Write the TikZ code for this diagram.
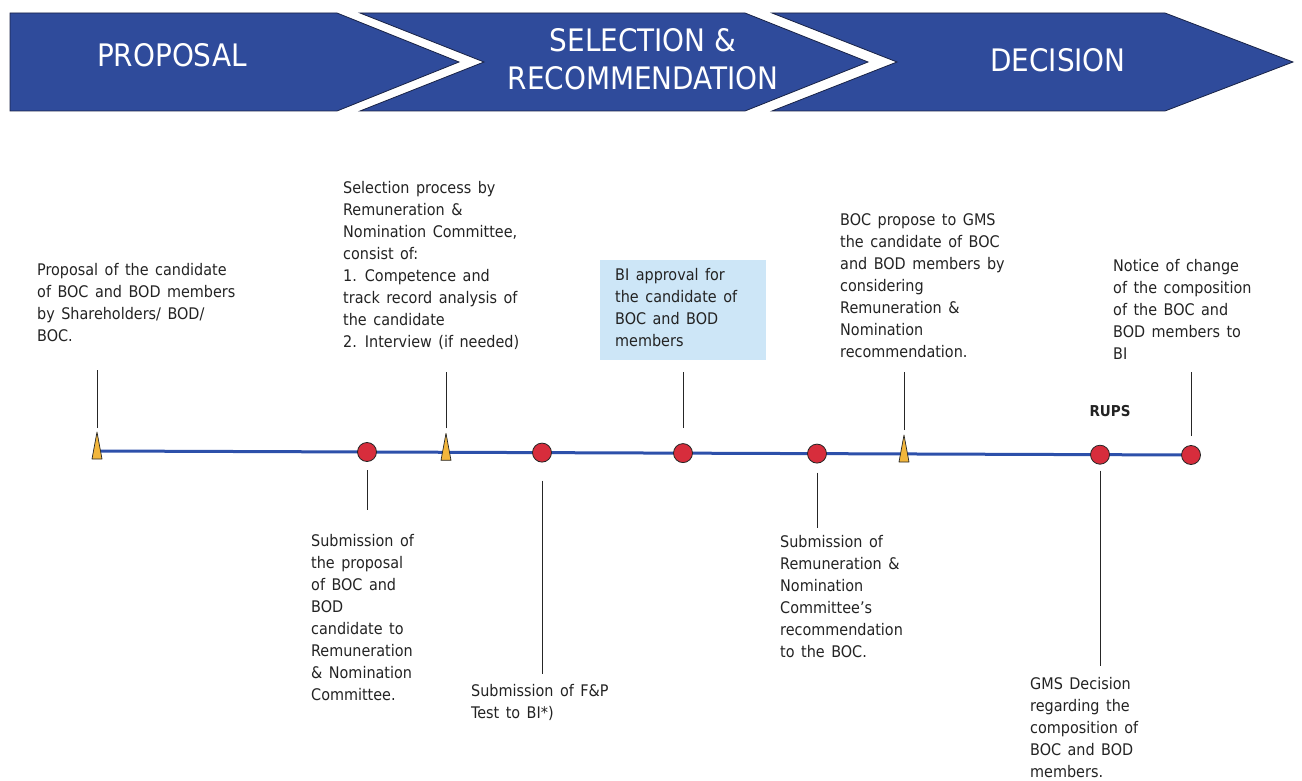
\documentclass[tikz,border=0pt]{standalone}
\usepackage{fontspec}
\setmainfont{DejaVu Sans Condensed}
\definecolor{hdrblue}{RGB}{47,75,155}
\definecolor{hdredge}{RGB}{25,35,70}
\definecolor{tlblue}{RGB}{45,80,170}
\definecolor{dotred}{RGB}{215,45,60}
\definecolor{triyel}{RGB}{242,182,60}
\definecolor{boxblue}{RGB}{205,230,247}
\definecolor{txt}{RGB}{35,35,35}
\newcommand{\descfont}{\fontsize{16}{22}\selectfont\spaceskip=6.5pt\relax}
\begin{document}
\begin{tikzpicture}[x=1pt,y=-1pt,
  chev/.style={fill=hdrblue,draw=hdredge,line width=0.8pt},
  hdr/.style={text=white,font=\fontsize{31}{38}\selectfont,align=center,inner sep=0pt},
  dot/.style={circle,draw=black!85,fill=dotred,line width=0.8pt,minimum size=19pt,inner sep=0pt},
  tri/.style={draw=black!85,fill=triyel,line width=0.7pt,line join=round},
  tick/.style={draw=black!85,line width=0.8pt},
  desc/.style={anchor=north west,align=left,inner sep=0pt,text=txt,font=\descfont},
  tl/.style={draw=tlblue,line width=3pt}
]
\useasboundingbox (0,0) rectangle (1302,781);
% header chevrons
\draw[chev] (10,13) -- (337,13) -- (459,62) -- (337,111) -- (10,111) -- cycle;
\draw[chev] (360,13) -- (745,13) -- (868,62) -- (745,111) -- (360,111) -- (484,62) -- cycle;
\draw[chev] (772,13) -- (1165,13) -- (1293,62) -- (1165,111) -- (772,111) -- (897,62) -- cycle;
\node[hdr] (h1) at (172,55) {PROPOSAL};
\node[hdr] (h2) at (643,59) {SELECTION \&\\RECOMMENDATION};
\node[hdr] (h3) at (1058,60) {DECISION};
% timeline markers
\coordinate (t1) at (97,451);
\coordinate (c2) at (367,452);
\coordinate (t3) at (446,452.3);
\coordinate (c4) at (542,452.6);
\coordinate (c5) at (683,453.1);
\coordinate (c6) at (817,453.6);
\coordinate (t7) at (904,454);
\coordinate (c8) at (1100,454.7);
\coordinate (c9) at (1191,455);
\draw[tl] (t1) -- (c9);
\draw[tri] (t1) ++(-5,8) -- ++(5,-27) -- ++(5,27) -- cycle;
\draw[tri] (t3) ++(-5,8) -- ++(5,-27) -- ++(5,27) -- cycle;
\draw[tri] (t7) ++(-5,8) -- ++(5,-27) -- ++(5,27) -- cycle;
\node[dot] (d2) at (c2) {};
\node[dot] (d4) at (c4) {};
\node[dot] (d5) at (c5) {};
\node[dot] (d6) at (c6) {};
\node[dot] (d8) at (c8) {};
\node[dot] (d9) at (c9) {};
% ticks
\draw[tick] (t1) ++(0,-23) -- ++(0,-58);
\draw[tick] (t3) ++(0,-24) -- ++(0,-56);
\draw[tick] (t7) ++(0,-24) -- ++(0,-58);
\draw[tick] (d5) ++(0,-25) -- ++(0,-56);
\draw[tick] (d9) ++(0,-19) -- ++(0,-64);
\draw[tick] (d2) ++(0,18) -- ++(0,40);
\draw[tick] (d4) ++(0,28) -- ++(0,193);
\draw[tick] (d6) ++(0,19) -- ++(0,55);
\draw[tick] (d8) ++(0,16) -- ++(0,195);
% texts above
\node[desc] (a1) at (37,263) {Proposal of the candidate\\of BOC and BOD members\\by Shareholders/ BOD/\\BOC.};
\node[desc] (a3) at (343,181) {Selection process by\\Remuneration \&\\Nomination Committee,\\consist of:\\1. Competence and\\track record analysis of\\the candidate\\2. Interview (if needed)};
\node[fill=boxblue,minimum width=166pt,minimum height=100pt,inner sep=0pt] (bx) at (683,310) {};
\node[desc] (a5) at (615,268) {BI approval for\\the candidate of\\BOC and BOD\\members};
\node[desc] (a7) at (840,213) {BOC propose to GMS\\the candidate of BOC\\and BOD members by\\considering\\Remuneration \&\\Nomination\\recommendation.};
\node[desc] (a9) at (1113,259) {Notice of change\\of the composition\\of the BOC and\\BOD members to\\BI};
\node[font=\bfseries\fontsize{15}{18}\selectfont,text=txt,inner sep=0pt] (rups) at (1110,411) {RUPS};
% texts below
\node[desc] (b2) at (311,534) {Submission of\\the proposal\\of BOC and\\BOD\\candidate to\\Remuneration\\\& Nomination\\Committee.};
\node[desc] (b4) at (471,684) {Submission of F\&P\\Test to BI*)};
\node[desc] (b6) at (780,535) {Submission of\\Remuneration \&\\Nomination\\Committee's\\recommendation\\to the BOC.};
\node[desc] (b8) at (1030,677) {GMS Decision\\regarding the\\composition of\\BOC and BOD\\members.};
\end{tikzpicture}
\end{document}
